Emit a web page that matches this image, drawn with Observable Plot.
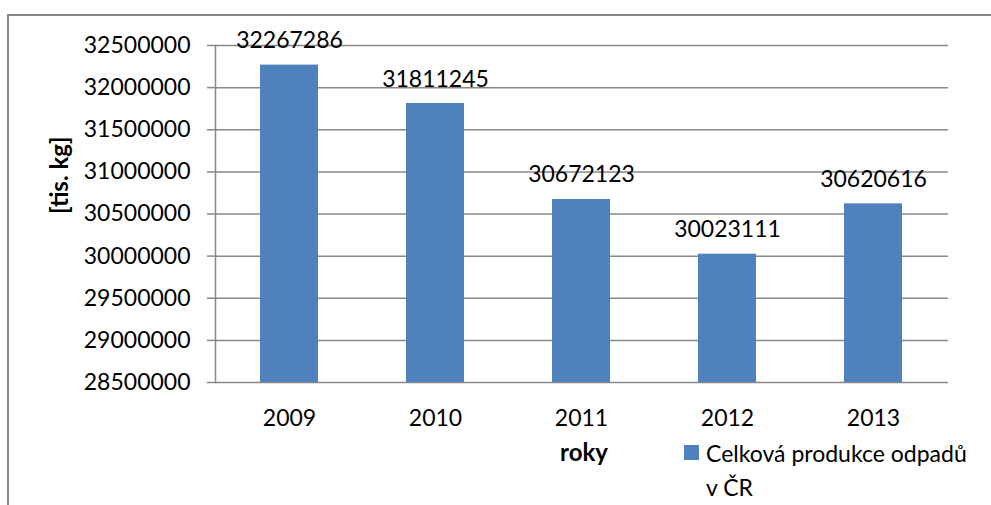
<!DOCTYPE html>
<html>
<head>
<meta charset="utf-8">
<script src="https://cdn.jsdelivr.net/npm/d3@7"></script>
<script src="https://cdn.jsdelivr.net/npm/@observablehq/plot@0.6"></script>
<style>
  body { margin: 0; background: #fff; }
  #chart { position: relative; width: 991px; height: 505px; overflow: hidden; font-family: Lato, "Open Sans", sans-serif; }
  #chart svg { position: absolute; left: 0; top: 0; }
  .border { position: absolute; left: 7px; top: 14px; width: 1200px; height: 800px; border: 2px solid #888; box-sizing: border-box; }
  .legend { position: absolute; left: 684px; top: 436px; display: flex; align-items: flex-start; font-size: 23px; color: #000; }
  .legend .swatch { width: 15px; height: 15px; background: #4F81BD; margin-top: 9px; margin-right: 7px; flex: none; }
  .legend .label { width: 262px; line-height: 34px; }
</style>
</head>
<body>
<div id="chart"><div class="border"></div></div>
<script>
// Total waste production in the Czech Republic, thousands of kg per year
const years = ["2009", "2010", "2011", "2012", "2013"];
const production = [32267286, 31811245, 30672123, 30023111, 30620616];
const yTicks = [28500000, 29000000, 29500000, 30000000, 30500000, 31000000, 31500000, 32000000, 32500000];
const seriesName = "Celková produkce odpadů v ČR";
const xTitle = "roky";
const yTitle = "[tis. kg]";

const rows = years.map((year, i) => ({year, value: production[i]}));
const yMin = yTicks[0];
const yMax = yTicks[yTicks.length - 1];
const gridColor = "#888";

const chart = Plot.plot({
  width: 991,
  height: 505,
  marginLeft: 215,
  marginRight: 43,
  marginTop: 45,
  marginBottom: 123,
  style: {fontFamily: "Lato, 'Open Sans', sans-serif", fontSize: "23px", color: "#000", background: "transparent", overflow: "visible"},
  x: {domain: years, paddingInner: 0.6, paddingOuter: 0.3},
  y: {domain: [yMin, yMax]},
  marks: [
    Plot.ruleY(yTicks, {stroke: gridColor, strokeWidth: 1.5, strokeOpacity: 1}),
    Plot.frame({anchor: "left", stroke: gridColor, strokeWidth: 1.5, strokeOpacity: 1}),
    Plot.axisY({ticks: yTicks, tickFormat: d => String(d), tickSize: 8, tickPadding: 17,
      stroke: gridColor, strokeWidth: 1.5, strokeOpacity: 1, fill: "#000", fontSize: 23, label: null}),
    Plot.axisX({tickSize: 0, tickPadding: 27, fill: "#000", fontSize: 23, label: null}),
    Plot.barY(rows, {x: "year", y1: yMin, y2: "value", fill: "#4F81BD"}),
    Plot.text(rows, {x: "year", y: "value", text: d => String(d.value), lineAnchor: "bottom", dy: -17, fontSize: 23, fill: "#000"}),
    Plot.text([yTitle], {frameAnchor: "left", dx: -155, rotate: -90, fontSize: 24, fontWeight: "bold", fill: "#000"}),
    Plot.text([xTitle], {frameAnchor: "bottom", dx: 2, dy: 78, fontSize: 24, fontWeight: "bold", fill: "#000"})
  ]
});

const root = document.getElementById("chart");
root.appendChild(chart);

const legend = document.createElement("div");
legend.className = "legend";
legend.innerHTML = `<div class="swatch"></div><div class="label"></div>`;
legend.querySelector(".label").textContent = seriesName;
root.appendChild(legend);
</script>
</body>
</html>
